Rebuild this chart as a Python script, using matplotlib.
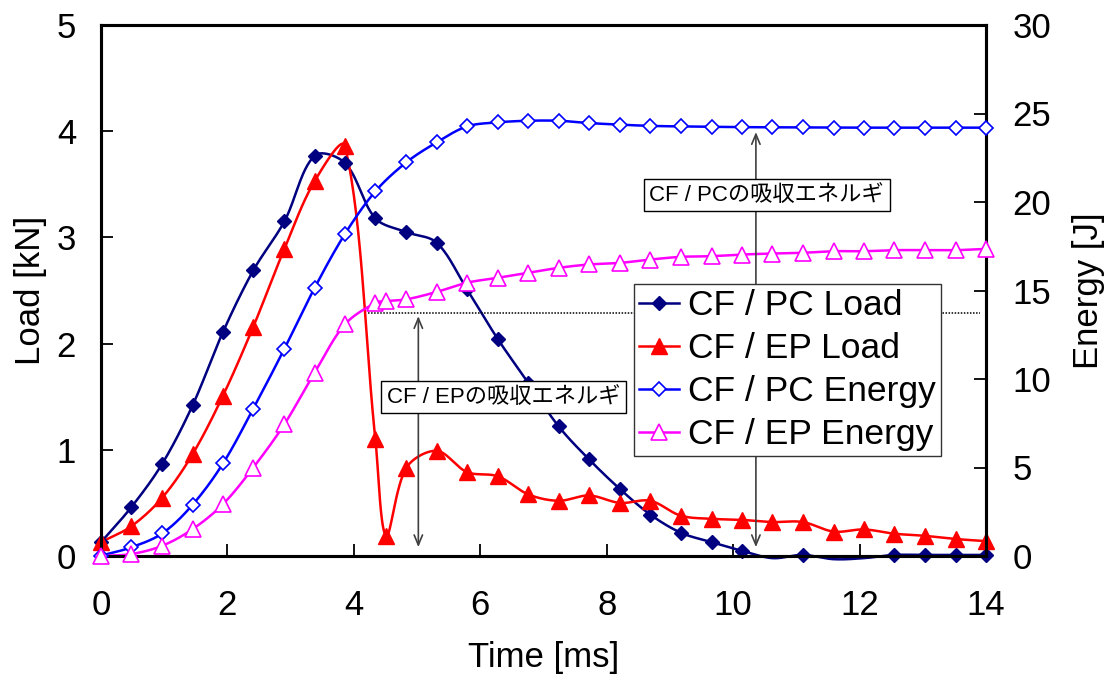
import numpy as np
import matplotlib
matplotlib.use("Agg")
import matplotlib.pyplot as plt
from matplotlib.lines import Line2D

plt.rcParams['font.family'] = ['Liberation Sans', 'Noto Sans CJK JP']

# ---- data ------------------------------------------------------------
time_pc = [0.00, 0.48, 0.97, 1.45, 1.93, 2.41, 2.90, 3.38, 3.86, 4.34,
           4.83, 5.31, 5.79, 6.28, 6.76, 7.24, 7.72, 8.21, 8.69, 9.17,
           9.66, 10.14, 10.62, 11.10, 11.59, 12.07, 12.55, 13.03, 13.52, 14.00]
time_ep = [0.00, 0.48, 0.97, 1.45, 1.93, 2.41, 2.90, 3.38, 3.86, 4.34, 4.51,
           4.83, 5.31, 5.79, 6.28, 6.76, 7.24, 7.72, 8.21, 8.69, 9.17,
           9.66, 10.14, 10.62, 11.10, 11.59, 12.07, 12.55, 13.03, 13.52, 14.00]

pc_load = [0.13, 0.46, 0.87, 1.42, 2.11, 2.69, 3.15, 3.77, 3.70, 3.18,
           3.05, 2.95, 2.51, 2.04, 1.63, 1.22, 0.91, 0.63, 0.39, 0.22,
           0.13, 0.05, -0.02, 0.01, -0.03, -0.02, 0.01, 0.01, 0.01, 0.01]
ep_load = [0.13, 0.28, 0.55, 0.96, 1.51, 2.16, 2.89, 3.53, 3.86, 1.10, 0.19,
           0.83, 0.99, 0.79, 0.75, 0.58, 0.52, 0.57, 0.50, 0.52, 0.38,
           0.35, 0.34, 0.32, 0.32, 0.23, 0.25, 0.21, 0.19, 0.16, 0.14]
pc_energy = [0.02, 0.49, 1.28, 2.90, 5.23, 8.33, 11.70, 15.15, 18.20, 20.60,
             22.24, 23.37, 24.27, 24.50, 24.59, 24.59, 24.46, 24.37, 24.30, 24.27,
             24.25, 24.23, 24.22, 24.21, 24.20, 24.20, 24.20, 24.20, 24.20, 24.20]
ep_energy = [0.00, 0.11, 0.58, 1.52, 2.93, 5.00, 7.44, 10.36, 13.09, 14.30, 14.40,
             14.50, 14.92, 15.44, 15.72, 16.00, 16.28, 16.47, 16.56, 16.75, 16.90,
             16.94, 17.03, 17.09, 17.13, 17.22, 17.22, 17.28, 17.28, 17.28, 17.35]

series_labels = ["CF / PC Load", "CF / EP Load", "CF / PC Energy", "CF / EP Energy"]
ep_absorbed = 13.75      # absorbed energy level marked for CF / EP [J]
pc_absorbed = 24.2       # absorbed energy level for CF / PC [J]

X_MAX, LOAD_MAX, ENERGY_MAX = 14, 5, 30

# ---- figure layout ---------------------------------------------------
W, H = 1109, 678
L, R, T, B = 101, 986, 25, 556
fig = plt.figure(figsize=(W / 100, H / 100), dpi=100)
ax1 = fig.add_axes([L / W, 1 - B / H, (R - L) / W, (B - T) / H])
ax2 = ax1.twinx()

ax_w, ax_h = R - L, B - T


def smooth(x, y, ymax, n=30):
    """Bezier smoothing in screen space with chord-length weighted tangents."""
    sx, sy = ax_w / X_MAX, ax_h / ymax
    P = np.column_stack([np.asarray(x) * sx, np.asarray(y) * sy])
    E = np.vstack([P[0], P, P[-1]])
    segs = []
    for i in range(len(P) - 1):
        p0, p1, p2, p3 = E[i], E[i + 1], E[i + 2], E[i + 3]
        d01 = np.hypot(*(p1 - p0))
        d12 = np.hypot(*(p2 - p1))
        d23 = np.hypot(*(p3 - p2))
        f1 = d12 / (d01 + d12) if d01 + d12 > 0 else 0
        f2 = d12 / (d12 + d23) if d12 + d23 > 0 else 0
        c1 = p1 + (p2 - p0) * f1 / 3
        c2 = p2 - (p3 - p1) * f2 / 3
        t = np.linspace(0, 1, n, endpoint=(i == len(P) - 2))[:, None]
        segs.append((1 - t) ** 3 * p1 + 3 * (1 - t) ** 2 * t * c1
                    + 3 * (1 - t) * t ** 2 * c2 + t ** 3 * p2)
    pts = np.vstack(segs)
    return pts[:, 0] / sx, pts[:, 1] / sy


NAVY, RED, BLUE, MAG = "#000080", "#FF0000", "#0000FF", "#FF00FF"
LW = 1.8

styles = [
    dict(color=NAVY, marker="D", ms=7.5, mfc=NAVY, mec=NAVY, mew=1.0),
    dict(color=RED, marker="^", ms=11, mfc=RED, mec=RED, mew=1.0),
    dict(color=BLUE, marker="D", ms=7.5, mfc="white", mec=BLUE, mew=1.2),
    dict(color=MAG, marker="^", ms=11, mfc="white", mec=MAG, mew=1.2),
]
data = [
    (ax1, time_pc, pc_load, LOAD_MAX),
    (ax1, time_ep, ep_load, LOAD_MAX),
    (ax2, time_pc, pc_energy, ENERGY_MAX),
    (ax2, time_ep, ep_energy, ENERGY_MAX),
]

handles = []
for (ax, t, v, ymax), st, lab in zip(data, styles, series_labels):
    xs, ys = smooth(t, v, ymax)
    ax.plot(xs, ys, color=st["color"], lw=LW, clip_on=False, zorder=2)
    t_arr, v_arr = np.asarray(t), np.asarray(v)
    keep = v_arr >= 0
    ax.plot(t_arr[keep], v_arr[keep], linestyle="none", marker=st["marker"],
            ms=st["ms"], mfc=st["mfc"], mec=st["mec"], mew=st["mew"],
            clip_on=False, zorder=3)
    handles.append(Line2D([0], [0], color=st["color"], lw=LW, marker=st["marker"],
                          ms=st["ms"], mfc=st["mfc"], mec=st["mec"], mew=st["mew"]))

# ---- axes ------------------------------------------------------------
ax1.set_xlim(0, X_MAX)
ax1.set_ylim(0, LOAD_MAX)
ax2.set_ylim(0, ENERGY_MAX)
ax1.set_xticks(range(0, 15, 2))
ax1.set_yticks(range(0, 6))
ax2.set_yticks(range(0, 31, 5))

TICK_FS = 25
for ax in (ax1, ax2):
    for s in ax.spines.values():
        s.set_linewidth(2.2)
        s.set_color("black")
ax1.tick_params(axis="x", direction="in", length=8.5, width=1.3, pad=24,
                labelsize=TICK_FS, top=False)
ax1.tick_params(axis="y", direction="in", length=8.5, width=1.3, pad=18,
                labelsize=TICK_FS, right=False)
ax2.tick_params(axis="y", direction="in", length=8.5, width=1.3, pad=19,
                labelsize=TICK_FS, left=False)

ax1.set_xlabel("Time [ms]", fontsize=25)
ax1.set_ylabel("Load [kN]", fontsize=25)
ax2.set_ylabel("Energy [J]", fontsize=25)
ax1.xaxis.set_label_coords(0.5, -0.16)
ax1.yaxis.set_label_coords(-0.061, 0.5)
ax2.yaxis.set_label_coords(1.097, 0.5)

# ---- annotations -----------------------------------------------------
ARROW_C = "#404040"
ax2.plot([4.22, 13.9], [ep_absorbed, ep_absorbed], color="black",
         lw=1.1, linestyle=(0, (1, 1)), zorder=4)

arrow_kw = dict(arrowstyle="<->,head_length=0.6,head_width=0.25",
                color=ARROW_C, lw=1.2, shrinkA=0, shrinkB=0, mutation_scale=12)
ax2.annotate("", xy=(5.02, ep_absorbed - 0.2), xytext=(5.02, 0.5),
             arrowprops=arrow_kw, zorder=5)
ax2.annotate("", xy=(10.36, pc_absorbed - 0.25), xytext=(10.36, 0.5),
             arrowprops=arrow_kw, zorder=5)

box_kw = dict(boxstyle="square,pad=0.25", fc="white", ec="black", lw=1.0)
ax2.text(6.37, 8.98, "CF / EPの吸収エネルギ", fontsize=16, ha="center",
         va="center", bbox=box_kw, zorder=6)
ax2.text(10.53, 20.38, "CF / PCの吸収エネルギ", fontsize=16, ha="center",
         va="center", bbox=box_kw, zorder=6)

leg = ax2.legend(handles, series_labels, loc="upper left",
                 bbox_to_anchor=((634 - L) / ax_w, (B - 284) / ax_h),
                 borderaxespad=0, fontsize=25.5, frameon=True, fancybox=False,
                 framealpha=1, edgecolor="#333333", handlelength=1.13,
                 handletextpad=0.25, borderpad=0.15, labelspacing=0.28)
leg.get_frame().set_linewidth(1.0)
leg.set_zorder(10)

fig.savefig("out.png", dpi=100)
